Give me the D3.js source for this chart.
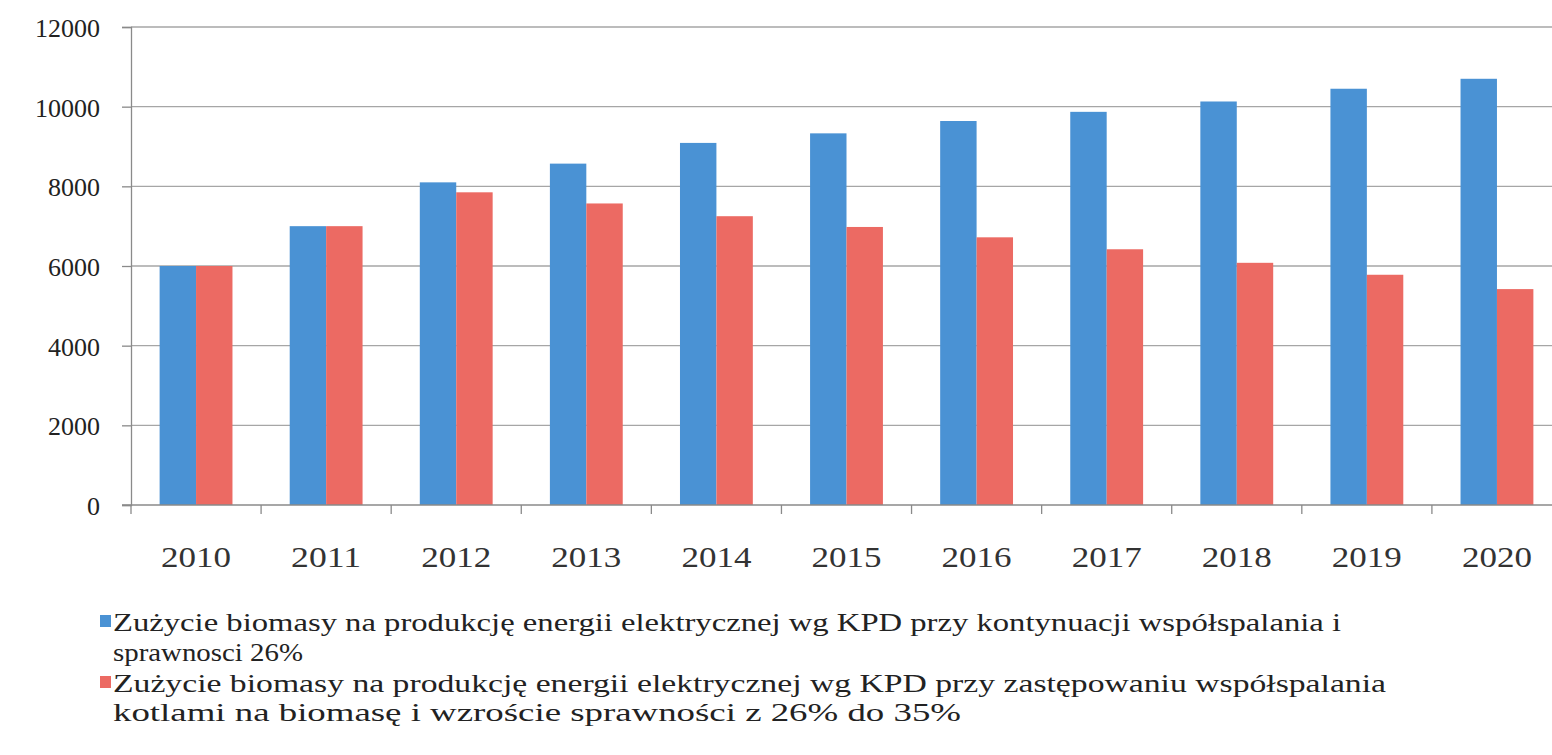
<!DOCTYPE html>
<html><head><meta charset="utf-8">
<script src="https://cdn.jsdelivr.net/npm/d3@7"></script>
<style>
html,body{margin:0;padding:0;background:#fff;overflow:hidden;}
svg{display:block;}
</style></head>
<body><svg id="c" width="1552" height="755"></svg>
<script>
const years = ["2010","2011","2012","2013","2014","2015","2016","2017","2018","2019","2020"];
const seriesBlue = [6000,7000,8100,8570,9090,9330,9640,9870,10130,10450,10700];
const seriesRed  = [6000,7000,7850,7570,7250,6980,6720,6420,6080,5780,5420];
const yTicks = [0,2000,4000,6000,8000,10000,12000];
const seriesNames = ["blue","red"];
const legendLines = [
  "Zużycie biomasy na produkcję energii elektrycznej wg KPD przy kontynuacji współspalania i",
  "sprawnosci 26%",
  "Zużycie biomasy na produkcję energii elektrycznej wg KPD przy zastępowaniu współspalania",
  "kotlami na biomasę i wzroście sprawności z 26% do 35%"
];

const colors = {blue:"#4a92d4", red:"#ec6a63"};
const svg = d3.select("#c");
const pLeft = 131, pRight = 1562, pTop = 27, pBottom = 505;
const FONT = '"Liberation Serif","DejaVu Serif",serif';

const y = d3.scaleLinear().domain([0,12000]).range([pBottom, pTop]);
const x0 = d3.scaleBand().domain(years).range([pLeft, pRight]).paddingInner(0.44).paddingOuter(0.22);
const x1 = d3.scaleBand().domain(seriesNames).range([0, x0.bandwidth()]);

// gridlines
svg.append("g").selectAll("line").data(yTicks.filter(d=>d>0)).join("line")
  .attr("x1", pLeft).attr("x2", 1552).attr("y1", d=>y(d)).attr("y2", d=>y(d))
  .attr("stroke","#a6a6a6").attr("stroke-width",1.3);

// y axis
const yAxis = d3.axisLeft(y).tickValues(yTicks).tickFormat(d3.format("d")).tickSize(9).tickPadding(22);
const gy = svg.append("g").attr("transform",`translate(${pLeft},0)`).call(yAxis);
gy.attr("font-family", FONT).attr("font-size", 26);
gy.select(".domain").attr("stroke","#8a8a8a").attr("stroke-width",1.3);
gy.selectAll(".tick line").attr("stroke","#8a8a8a").attr("stroke-width",1.3);
gy.selectAll(".tick text").attr("fill","#222").attr("dy","0.36em")
  .attr("textLength", d => String(d).length*13).attr("lengthAdjust","spacingAndGlyphs");

// bars
const data = years.map((yr,i)=>({yr, vals:[{k:"blue",v:seriesBlue[i]},{k:"red",v:seriesRed[i]}]}));
const groups = svg.append("g").selectAll("g").data(data).join("g")
  .attr("transform", d=>`translate(${x0(d.yr)},0)`);
groups.selectAll("rect").data(d=>d.vals).join("rect")
  .attr("x", d=>x1(d.k)).attr("width", x1.bandwidth())
  .attr("y", d=>y(d.v)).attr("height", d=>y(0)-y(d.v))
  .attr("fill", d=>colors[d.k]);

// x axis
const step = x0.step();
svg.append("line").attr("x1",pLeft-9).attr("x2",1552).attr("y1",pBottom).attr("y2",pBottom)
  .attr("stroke","#8a8a8a").attr("stroke-width",1.3);
svg.append("g").selectAll("line").data(years).join("line")
  .attr("x1", d=>x0(d) - step*x0.paddingInner()/2).attr("x2", d=>x0(d) - step*x0.paddingInner()/2)
  .attr("y1", pBottom).attr("y2", pBottom+9).attr("stroke","#8a8a8a").attr("stroke-width",1.3);
svg.append("g").selectAll("text").data(years).join("text")
  .attr("x", d=>x0(d)+x0.bandwidth()/2).attr("y", 567)
  .attr("text-anchor","middle").attr("font-family",FONT)
  .attr("font-size",30).attr("fill","#333")
  .attr("textLength",70).attr("lengthAdjust","spacingAndGlyphs").text(d=>d);

// legend
const legY = [631, 661, 692, 721];
const legW = [1228, 190, 1273, 848];
const leg = svg.append("g");
legendLines.forEach((t,i)=>{
  leg.append("text").attr("x",113).attr("y",legY[i])
    .attr("font-family",FONT).attr("font-size",25).attr("fill","#222")
    .attr("textLength", legW[i]).attr("lengthAdjust","spacingAndGlyphs").text(t);
});
leg.append("rect").attr("x",100).attr("y",615).attr("width",11).attr("height",12).attr("fill",colors.blue);
leg.append("rect").attr("x",100).attr("y",676).attr("width",11).attr("height",12).attr("fill",colors.red);
</script>
</body></html>
